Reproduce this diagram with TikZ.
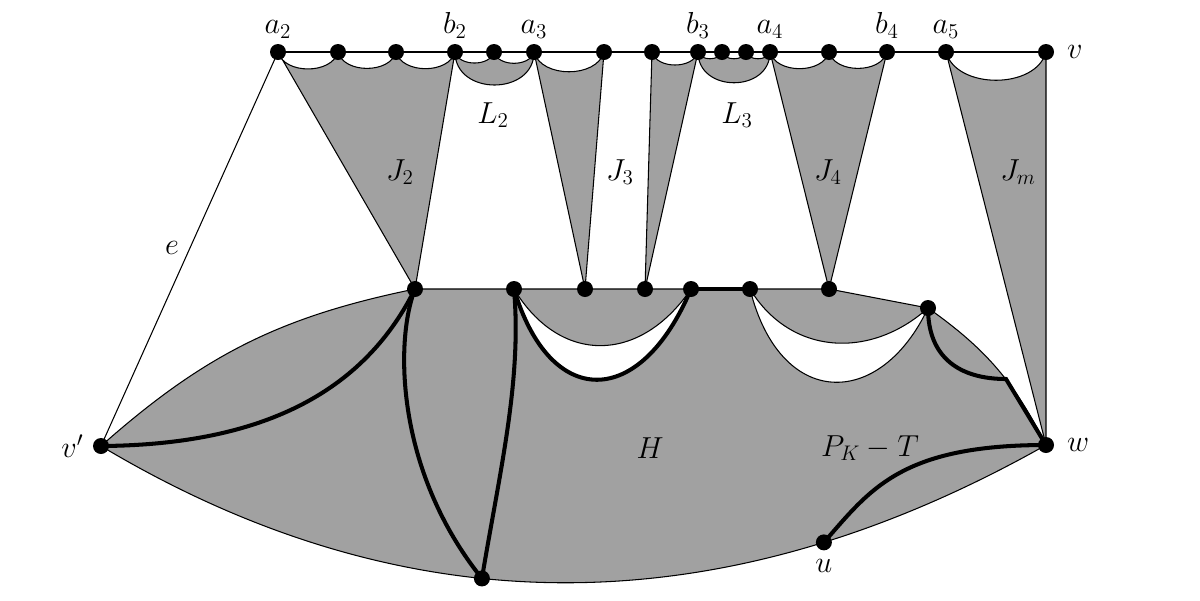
\documentclass[tikz,border=0pt]{standalone}
\usepackage{amsmath}
\usetikzlibrary{positioning}
\definecolor{blockgray}{gray}{0.63}

\begin{document}
\begin{tikzpicture}[x=0.02cm, y=-0.02cm,
  vtx/.style={circle, fill=black, inner sep=0pt, minimum size=0.32cm},
  edge/.style={line width=0.6pt},
  heavy/.style={line width=2.3pt},
  region/.style={fill=blockgray, draw=black, line width=0.6pt},
  hole/.style={fill=white, draw=black, line width=0.6pt},
  lbl/.style={font=\LARGE, inner sep=1pt},
  scallop/.style={bend right=75}]
  \useasboundingbox (0,0) rectangle (1200,600);

  % top row
  \coordinate (a2) at (278,52);
  \coordinate (t1) at (338,52);
  \coordinate (t2) at (396,52);
  \coordinate (b2) at (455,52);
  \coordinate (t3) at (494,52);
  \coordinate (a3) at (534,52);
  \coordinate (t4) at (604,52);
  \coordinate (t5) at (652,52);
  \coordinate (b3) at (698,52);
  \coordinate (t6) at (722,52);
  \coordinate (t7) at (746,52);
  \coordinate (a4) at (770,52);
  \coordinate (t8) at (829,52);
  \coordinate (b4) at (887,52);
  \coordinate (a5) at (946,52);
  \coordinate (v) at (1046,52);
  % middle row
  \coordinate (m1) at (415,289);
  \coordinate (m2) at (514,289);
  \coordinate (m3) at (585,289);
  \coordinate (m4) at (645,289);
  \coordinate (m5) at (691,289);
  \coordinate (m6) at (750,289);
  \coordinate (m7) at (829,289);
  \coordinate (r) at (928,308);
  \coordinate (c) at (1006,379);
  % H
  \coordinate (vp) at (101,446);
  \coordinate (w) at (1046,445);
  \path (w) .. controls (722,628) and (407,629) .. (vp)
    coordinate[pos=0.23] (u) coordinate[pos=0.59] (bot);

  % blocks J and L
  \draw[region] (a2) to[scallop] (t1) to[scallop] (t2) to[scallop] (b2) -- (m1) -- cycle;
  \draw[region] (b2) to[scallop] (t3) to[scallop] (a3) .. controls +(0,44) and +(0,44) .. (b2) -- cycle;
  \draw[region] (a3) to[scallop] (t4) -- (m3) -- cycle;
  \draw[region] (t5) to[scallop] (b3) -- (m4) -- cycle;
  \draw[region] (b3) to[scallop] (t6) to[scallop] (t7) to[scallop] (a4) .. controls +(0,41) and +(0,41) .. (b3) -- cycle;
  \draw[region] (a4) to[scallop] (t8) to[scallop] (b4) -- (m7) -- cycle;
  \draw[region] (a5) to[scallop] (v) -- (w) -- cycle;

  % H
  \draw[region] (vp) to[bend left=15] (m1) -- (m7) -- (r) to[bend left=14] (w)
    .. controls (722,628) and (407,629) .. (vp) -- cycle;
  \draw[hole] (m2) .. controls (550,410) and (640,410) .. (m5)
    .. controls (640,364) and (560,365) .. (m2) -- cycle;
  \draw[hole] (m6) .. controls (780,410) and (880,410) .. (r)
    .. controls (870,360) and (790,355) .. (m6) -- cycle;

  % thin edges
  \draw[edge] (a2) -- (v);
  \draw[edge] (a2) -- (vp);

  % thick paths
  \draw[heavy] (vp) .. controls (250,445) and (360,400) .. (m1);
  \draw[heavy] (m1) .. controls (395,340) and (395,470) .. (bot);
  \draw[heavy] (bot) .. controls (500,470) and (522,380) .. (m2);
  \draw[heavy] (m2) .. controls (550,410) and (640,410) .. (m5);
  \draw[heavy] (m5) -- (m6);
  \draw[heavy] (r) .. controls (928,358) and (960,379) .. (c) -- (w);
  \draw[heavy] (u) .. controls (870,490) and (900,445) .. (w);

  % vertices
  \foreach \p in {a2,t1,t2,b2,t3,a3,t4,t5,b3,t6,t7,a4,t8,b4,a5,v,
                  m1,m2,m3,m4,m5,m6,m7,r,vp,w,u,bot}
    \node[vtx] (d\p) at (\p) {};

  % labels
  \foreach \p/\t in {a2/a_2,b2/b_2,a3/a_3,b3/b_3,a4/a_4,b4/b_4,a5/a_5}
    \node[lbl, above=2pt of d\p] (l\p) {$\t$};
  \node[lbl, right=6pt of dv] (lv) {$v$};
  \node[lbl, right=6pt of dw] (lw) {$w$};
  \node[lbl, left=4pt of dvp] (lvp) {$v'$};
  \node[lbl, below=4pt of du] (lu) {$u$};
  \node[lbl] (lL2) at (493,115) {$L_2$};
  \node[lbl] (lL3) at (737,115) {$L_3$};
  \node[lbl] (lJ2) at (400,172) {$J_2$};
  \node[lbl] (lJ3) at (620,172) {$J_3$};
  \node[lbl] (lJ4) at (828,172) {$J_4$};
  \node[lbl] (lJm) at (1018,172) {$J_m$};
  \node[lbl] (le) at (172,248) {$e$};
  \node[lbl] (lH) at (650,448) {$H$};
  \node[lbl] (lPK) at (870,448) {$P_K - T$};
\end{tikzpicture}
\end{document}
